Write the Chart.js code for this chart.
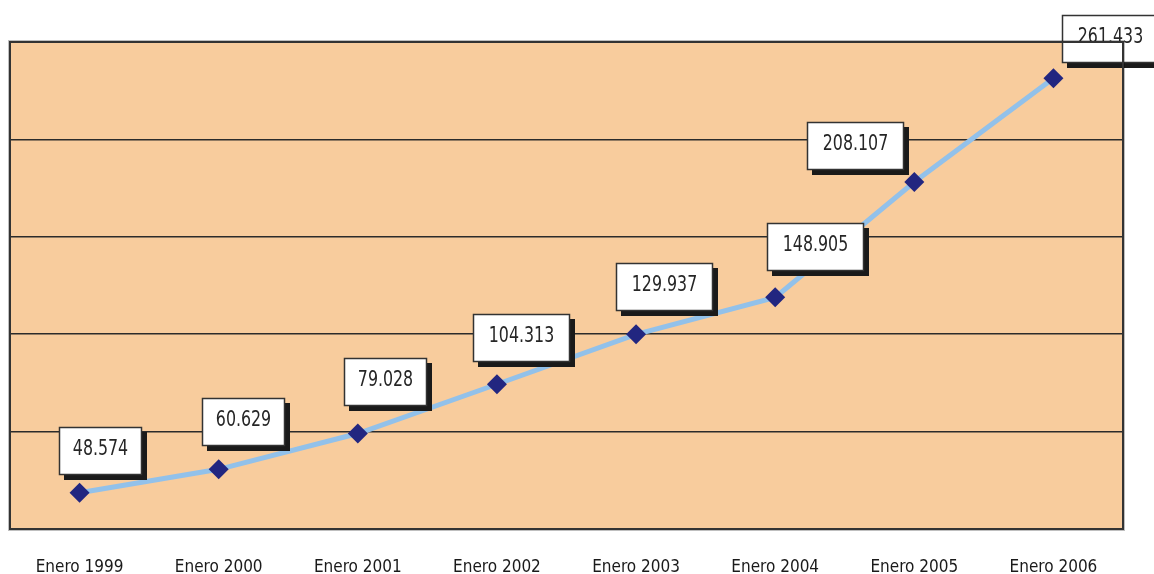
<!DOCTYPE html>
<html>
<head>
<meta charset="utf-8">
<script src="https://cdn.jsdelivr.net/npm/chart.js@4"></script>
<style>
  html, body { margin: 0; padding: 0; background: #ffffff; }
  #wrap { width: 1154px; height: 574px; }
</style>
</head>
<body>
<div id="wrap"><canvas id="evolucion"></canvas></div>
<script>

// DATA

var periodos = ['Enero 1999', 'Enero 2000', 'Enero 2001', 'Enero 2002',
                'Enero 2003', 'Enero 2004', 'Enero 2005', 'Enero 2006'];

var totales = [48574, 60629, 79028, 104313, 129937, 148905, 208107, 261433];

var ejeMin = 30000;
var ejeMax = 280000;
var ejePaso = 50000;


// where each value box sits relative to its point (center x, bottom y)
var boxShift = [[21, -18], [25, -23], [28, -27], [25, -22],
                [28, -23], [40, -26], [-59, -12], [57, -15]];

var FONT = '"DejaVu Sans Condensed", "Liberation Sans Narrow", sans-serif';


function puntos(n) {
    return String(n).replace(/\B(?=(\d{3})+(?!\d))/g, '.');
}


// peach plot area + dark frame
var fondo = {
    id: 'fondo',
    beforeDraw: function(chart) {
        var a = chart.chartArea, ctx = chart.ctx;
        ctx.save();
        ctx.fillStyle = '#f8cc9d';
        ctx.fillRect(a.left, a.top, a.right - a.left, a.bottom - a.top);
        ctx.restore();
    },
    afterDraw: function(chart) {
        var a = chart.chartArea, ctx = chart.ctx;
        ctx.save();
        ctx.strokeStyle = 'rgba(0,0,0,0.25)';
        ctx.lineWidth = 1;
        ctx.strokeRect(a.left - 1.5, a.top - 1.5, a.right - a.left + 3, a.bottom - a.top + 3);
        ctx.strokeStyle = '#333333';
        ctx.lineWidth = 2;
        ctx.strokeRect(a.left, a.top, a.right - a.left, a.bottom - a.top);
        ctx.restore();
    }
};


// white value boxes with a black drop shadow
var cajas = {
    id: 'cajas',
    afterDatasetsDraw: function(chart) {
        var ctx = chart.ctx;
        var meta = chart.getDatasetMeta(0);
        ctx.save();
        ctx.font = '22px ' + FONT;
        ctx.textAlign = 'center';
        ctx.textBaseline = 'middle';

        meta.data.forEach(function(pt, i) {
            var txt = puntos(chart.data.datasets[0].data[i]);
            var w = txt.length > 6 ? 97 : 83;
            var h = 48;
            var x = Math.round(pt.x + boxShift[i][0] - w / 2);
            var y = Math.round(pt.y + boxShift[i][1] - h);

            ctx.fillStyle = '#1a1a1a';
            ctx.fillRect(x + 5, y + 5, w, h);
            ctx.fillStyle = '#ffffff';
            ctx.fillRect(x, y, w, h);
            ctx.strokeStyle = '#333333';
            ctx.lineWidth = 1.5;
            ctx.strokeRect(x + 0.5, y + 0.5, w - 1, h - 1);

            // narrow the digits like the original print
            ctx.save();
            ctx.translate(x + w / 2, y + h / 2 - 2);
            ctx.scale(0.8, 1);
            ctx.fillStyle = '#262626';
            ctx.fillText(txt, 0, 0);
            ctx.restore();
        });
        ctx.restore();
    }
};


var ctx_e = document.getElementById('evolucion').getContext('2d');

var grafico = new Chart(ctx_e, {
    type: 'line',

    data: {
        labels: periodos,
        datasets: [{
            data: totales,
            borderColor: '#92c1ea',
            borderWidth: 5,
            tension: 0,
            pointStyle: 'rectRot',
            pointRadius: 10,
            pointHoverRadius: 10,
            pointBackgroundColor: '#222680',
            pointBorderColor: '#222680',
            pointBorderWidth: 0,
        }],
    },

    options: {
        responsive: true,
        maintainAspectRatio: false,
        animation: false,
        layout: {
            padding: {left: 8, right: 31, top: 42, bottom: 0}},

        scales: {
            x: {
                offset: true,
                grid: {display: false, drawTicks: false},
                border: {display: false},
                afterFit: function(axis) { axis.height = 45; },
                ticks: {
                    padding: 30,
                    color: '#1a1a1a',
                    maxRotation: 0,
                    autoSkip: false,
                    font: {family: FONT, size: 17, lineHeight: 1}}},
            y: {
                min: ejeMin,
                max: ejeMax,
                grid: {color: '#2b2b2b', lineWidth: 1.5, drawTicks: false},
                border: {display: false},
                ticks: {display: false, stepSize: ejePaso}},
        },

        plugins: {
            legend: {display: false},
            tooltip: {enabled: false},
            title: {display: false},},
    },

    plugins: [fondo, cajas],
});

</script>
</body>
</html>
